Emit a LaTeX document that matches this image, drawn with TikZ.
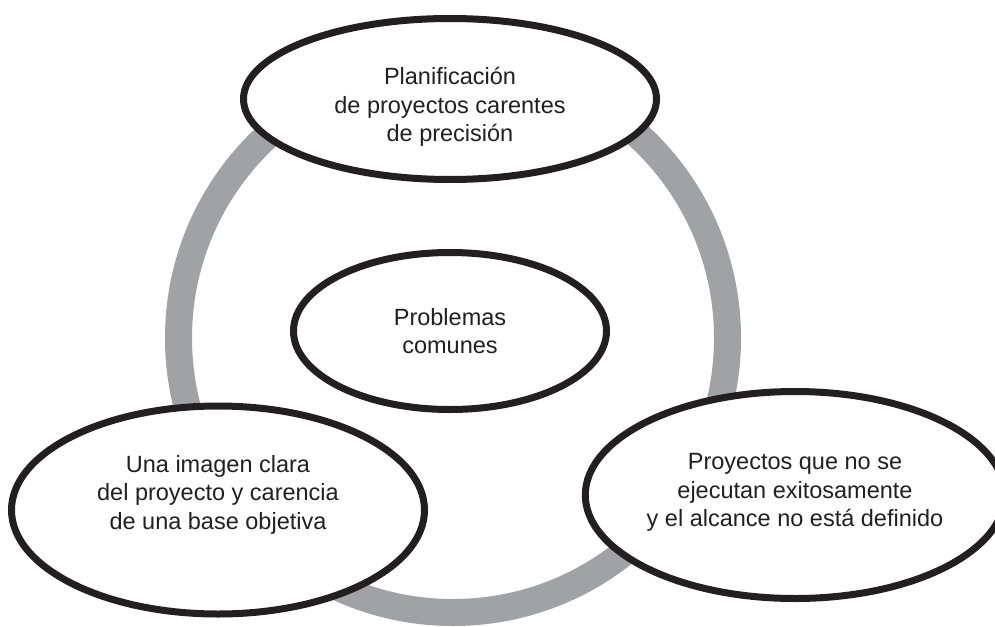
\documentclass[tikz,border=0pt]{standalone}
\usepackage{fontspec}
\setmainfont{Liberation Sans}
\usetikzlibrary{shapes.geometric,positioning}
\definecolor{ringgray}{HTML}{A1A2A6}
\definecolor{ink}{HTML}{231F20}

\begin{document}
\begin{tikzpicture}[x=1pt,y=-1pt,node distance=10pt,on grid,
		problem/.style={ellipse,draw=ink,line width=7pt,fill=white,inner sep=0pt,
			align=center,text=ink,font=\fontsize{23.5}{28.5}\selectfont}]
		\useasboundingbox (0,0) rectangle (995,626);
		
		% gray ring behind the ellipses
		\draw[ringgray,line width=27pt] (453,338) circle (274.5pt);
		
		\node[problem,minimum width=313pt,minimum height=157pt] (centro) at (450,331) {Problemas\\comunes};
		\node[problem,minimum width=413pt,minimum height=161pt,text height=90pt] (plan) [above=232pt of centro]
			{Planificación\\de proyectos carentes\\de precisión};
		\node[problem,minimum width=413pt,minimum height=208pt,text depth=36pt] (imagen) [below left=179pt and 232pt of centro]
			{Una imagen clara\\del proyecto y carencia\\de una base objetiva};
		\node[problem,minimum width=401pt,minimum height=207pt,text depth=10pt] (alcance) [below right=164pt and 345pt of centro]
			{Proyectos que no se\\ejecutan exitosamente\\y el alcance no está definido};
\end{tikzpicture}
\end{document}
